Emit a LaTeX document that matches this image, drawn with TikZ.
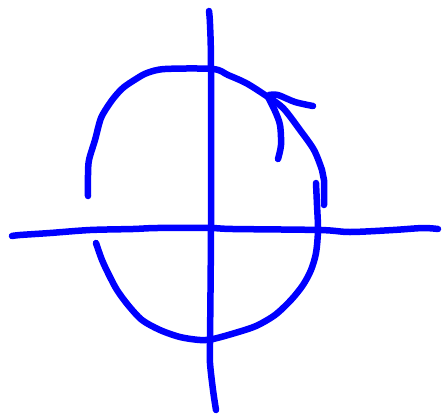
\documentclass[tikz,border=0pt]{standalone}
\begin{document}
\begin{tikzpicture}[x=1pt,y=-1pt,
  ink/.style={draw={rgb,255:red,0;green,0;blue,255},line width=6.5pt,line cap=round,line join=round}]
\useasboundingbox (0,0) rectangle (442,416);
% vertical axis
\draw[ink] plot[smooth,tension=0.5] coordinates {(209,11) (210,24) (211,67) (211,227) (210,343) (210,363) (213,390) (216,410)};
% horizontal axis
\draw[ink] plot[smooth,tension=0.5] coordinates {(12,236) (20,235) (50,233) (90,230) (133,229) (157,228) (210,228) (233,229) (320,230) (350,232) (393,230) (423,228) (438,229)};
% upper arc
\draw[ink] plot[smooth,tension=0.5] coordinates {(88,196) (88,175) (89,160) (95,140) (101,118) (110,103) (117,94) (124,87) (136,79) (147,73) (165,69) (213,69) (228,75) (246,83) (265,95) (283,108) (300,130) (314,150) (322,170) (324,180) (324,205)};
% arrowhead barbs
\draw[ink] plot[smooth,tension=0.5] coordinates {(269,95) (278,95) (295,102) (313,106)};
\draw[ink] plot[smooth,tension=0.5] coordinates {(268,97) (275,111) (280,125) (281,145) (278,159)};
% lower arc
\draw[ink] plot[smooth,tension=0.5] coordinates {(316,183) (317,205) (318,230) (316,253) (311,270) (303,285) (291,300) (275,315) (256,326) (235,333) (213,339) (200,340) (180,337) (160,330) (142,320) (128,305) (117,290) (109,275) (102,260) (96,243)};
\end{tikzpicture}
\end{document}
